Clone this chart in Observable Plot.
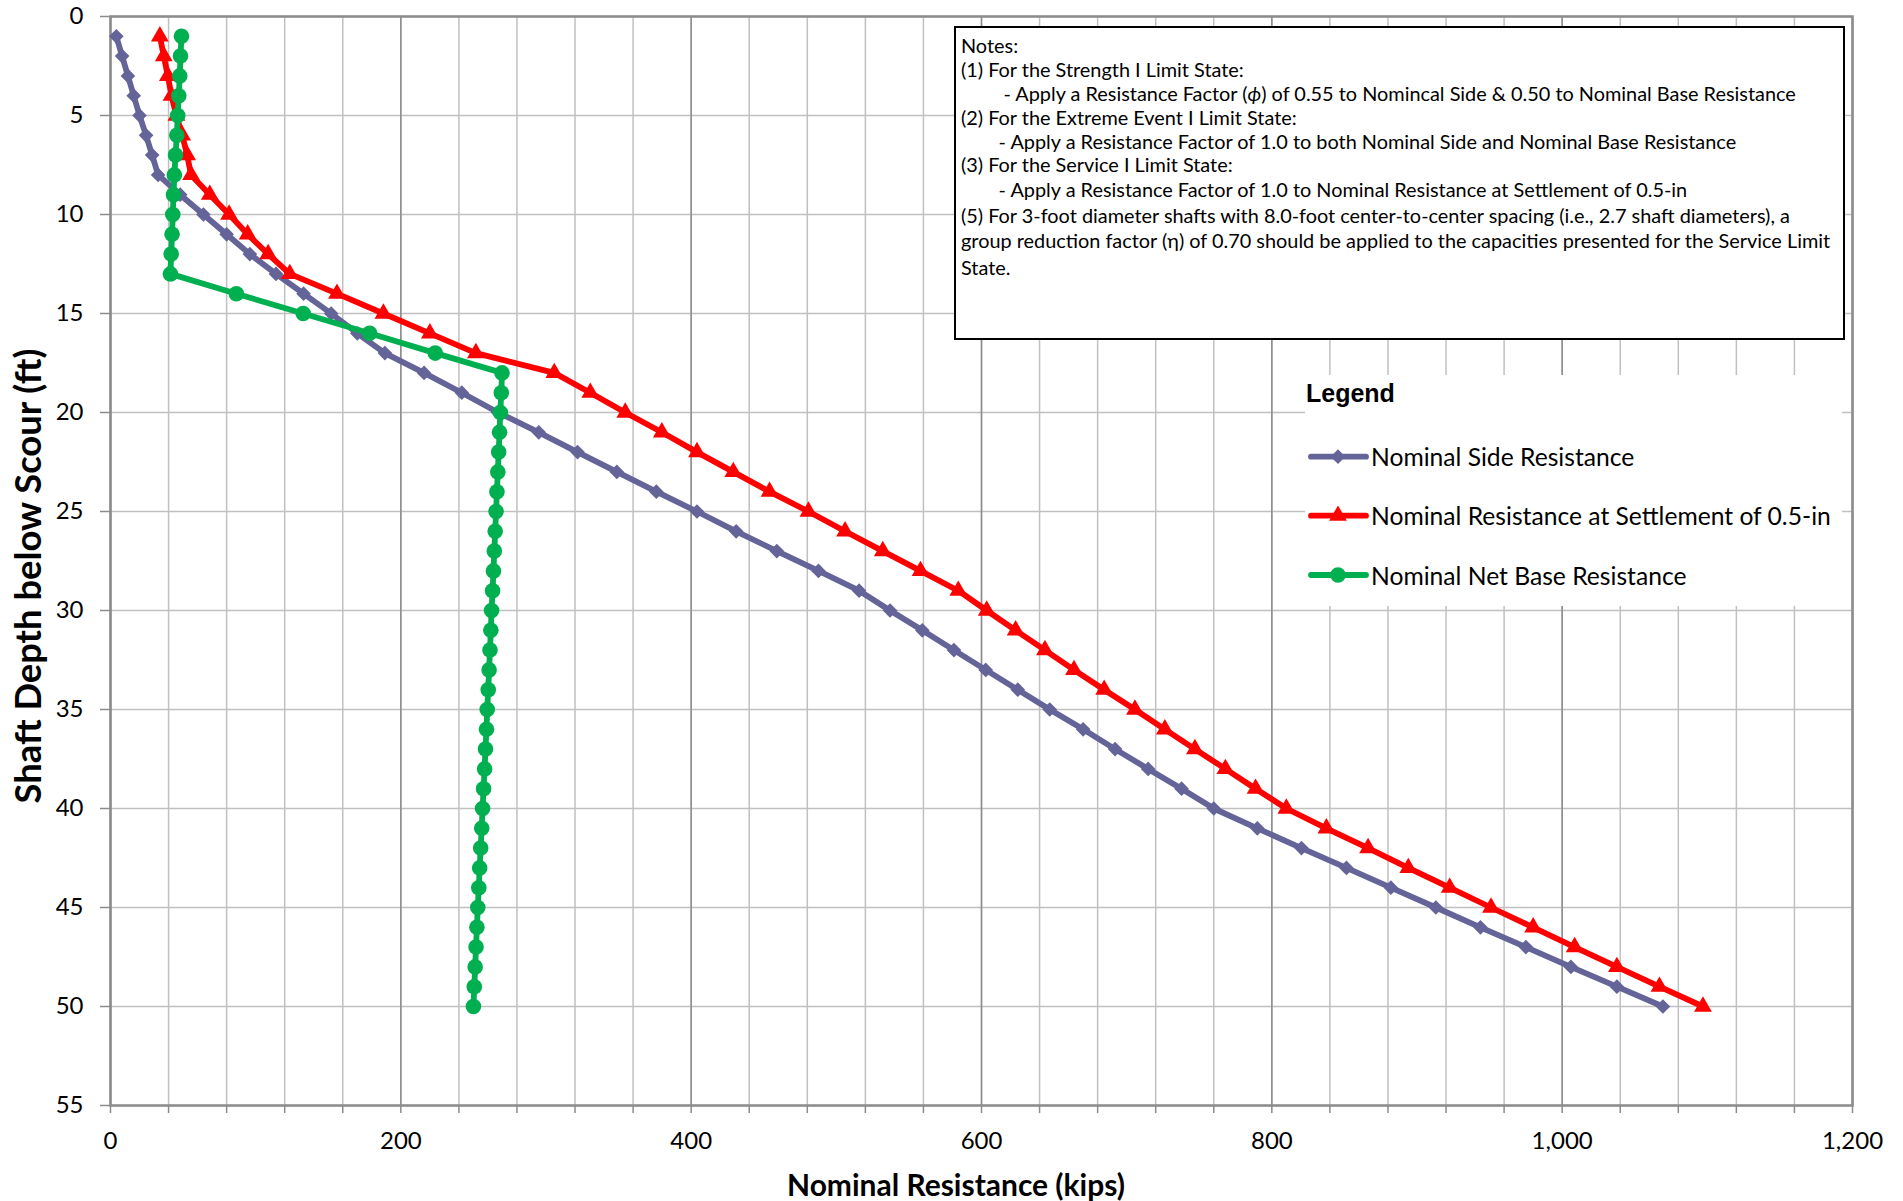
<!DOCTYPE html>
<html><head><meta charset="utf-8">
<script src="https://cdn.jsdelivr.net/npm/d3@7"></script>
<script src="https://cdn.jsdelivr.net/npm/@observablehq/plot@0.6"></script>
<style>
body{margin:0;background:#fff;}
#chart{position:relative;width:1903px;height:1201px;}
</style></head><body><div id="chart"></div>
<script>
// ---- data ----
const depth = [1,2,3,4,5,6,7,8,9,10,11,12,13,14,15,16,17,18,19,20,21,22,23,24,25,26,27,28,29,30,31,32,33,34,35,36,37,38,39,40,41,42,43,44,45,46,47,48,49,50];
const sideResistance = [4,8,12,16,20,24.5,28.7,32.8,48,64,80,96,114,133,152,170,189,216,242,267,295,321.7,348.8,376,404,431,459,487.7,515.7,537,559.2,581,602.9,625,647,670,692,714.8,737.8,760,790,820.4,851.4,882,913,943.7,975,1006,1037.7,1069.4];
const settlementResistance = [34,36.7,39.5,42,45.4,49.4,52.8,55.5,68.4,81.7,94.5,108.6,123.5,156,188,220,251.7,305.7,330.5,354.6,379.8,404,429,454,480.8,506,532,558,584,603.6,623.5,643.7,663.7,684.5,705.7,726.3,747,768,788.8,810,837.6,866.3,894,922.5,951,980,1008.6,1037.7,1067,1097];
const netBaseResistance = [48.9,48.2,47.7,47,46.3,45.7,44.8,44,43.4,42.9,42.4,41.8,41.3,86.7,132.7,178.5,223.7,269.7,269.2,268.5,268,267.4,266.8,266.2,265.6,265,264.4,263.8,263.2,262.5,262,261.4,260.8,260.2,259.5,259,258.3,257.7,257,256.3,255.7,255,254.3,253.7,253,252.4,251.8,251.2,250.6,250];
const seriesNames = ["Nominal Side Resistance","Nominal Resistance at Settlement of 0.5-in","Nominal Net Base Resistance"];
const seriesColors = ["#646499","#ff0000","#00b050"];
const seriesSymbols = ["diamond2","triangle","circle"];
const seriesValues = [sideResistance, settlementResistance, netBaseResistance];
const xMajorTicks = [0,200,400,600,800,1000,1200];
const xMinorTicks = d3.range(0, 1201, 40);
const yTicks = [0,5,10,15,20,25,30,35,40,45,50,55];
const xTitle = "Nominal Resistance (kips)";
const yTitle = "Shaft Depth below Scour (ft)";
const legendTitle = "Legend";
const notes = [
  "Notes:",
  "(1) For the Strength I Limit State:",
  "- Apply a Resistance Factor (|ϕ|) of 0.55 to Nomincal Side & 0.50 to Nominal Base Resistance",
  "(2) For the Extreme Event I Limit State:",
  "- Apply a Resistance Factor of 1.0 to both Nominal Side and Nominal Base Resistance",
  "(3) For the Service I Limit State:",
  "- Apply a Resistance Factor of 1.0 to Nominal Resistance at Settlement of 0.5-in",
  "(5) For 3-foot diameter shafts with 8.0-foot center-to-center spacing (i.e., 2.7 shaft diameters), a",
  "group reduction factor (η) of 0.70 should be applied to the capacities presented for the Service Limit",
  "State."
];

// ---- build ----
const rows = seriesValues.map((vals, s) => depth.map((d, i) => ({depth: d, value: vals[i], series: seriesNames[s]})));
const fmt = d3.format(",");
const FONT = "Lato, 'Open Sans', sans-serif";
const symR = {diamond2: 6.6, triangle: 6.6, circle: 7.8};
const LW = 5.8;

const seriesMarks = rows.flatMap((r, s) => [
  Plot.line(r, {x: "value", y: "depth", stroke: seriesColors[s], strokeWidth: LW}),
  Plot.dot(r, {x: "value", y: "depth", symbol: seriesSymbols[s], r: symR[seriesSymbols[s]], fill: seriesColors[s], stroke: "none"})
]);

const chart = Plot.plot({
  width: 1903, height: 1201,
  marginLeft: 110, marginRight: 51, marginTop: 16, marginBottom: 96,
  style: {fontFamily: FONT, background: "white", color: "black"},
  x: {domain: [0, 1200], label: null},
  y: {domain: [0, 55], reverse: true, label: null},
  marks: [
    Plot.gridX(xMinorTicks, {stroke: "#c0c0c0", strokeOpacity: 1, strokeWidth: 1.5}),
    Plot.gridY(yTicks, {stroke: "#c0c0c0", strokeOpacity: 1, strokeWidth: 1.5}),
    Plot.gridX(xMajorTicks, {stroke: "#8c8c8c", strokeOpacity: 1, strokeWidth: 1.5}),
    Plot.frame({stroke: "#8c8c8c", strokeWidth: 2.5}),
    Plot.axisX(xMinorTicks, {anchor: "bottom", tickSize: 8, tickPadding: 18, fontSize: 24,
      tickFormat: d => d % 200 === 0 ? fmt(d) : "", stroke: "#8c8c8c", strokeWidth: 1.5, fill: "black", label: null}),
    Plot.axisY(yTicks, {anchor: "left", tickSize: 10, tickPadding: 17, fontSize: 24,
      stroke: "#8c8c8c", strokeWidth: 1.5, fill: "black", label: null}),
    ...seriesMarks
  ]
});
document.getElementById("chart").appendChild(chart);

const svg = d3.select(chart);
function fitWidth(sel, target) {
  const base = +sel.attr("font-size");
  const w = sel.node().getComputedTextLength();
  sel.attr("font-size", base * target / w);
}

// axis titles
const xt = svg.append("text").text(xTitle)
  .attr("x", 956).attr("y", 1184).attr("text-anchor", "middle").attr("dominant-baseline", "central")
  .attr("font-family", FONT).attr("font-weight", "bold").attr("font-size", 26).attr("fill", "black");
fitWidth(xt, 338);
const yt = svg.append("text").text(yTitle)
  .attr("transform", "translate(27,576) rotate(-90)").attr("text-anchor", "middle").attr("dominant-baseline", "central")
  .attr("font-family", FONT).attr("font-weight", "bold").attr("font-size", 26).attr("fill", "black");
fitWidth(yt, 455);

// notes box
const ng = svg.append("g").attr("text-anchor", "start");
ng.append("rect").attr("x", 955).attr("y", 27).attr("width", 889).attr("height", 312)
  .attr("fill", "white").attr("stroke", "black").attr("stroke-width", 2);
const noteY = [45, 69.3, 92.7, 116.7, 140.7, 164.3, 189, 215, 240, 266.7];
const noteX = [961, 961, 1003.5, 961, 998.6, 961, 998.6, 961, 961, 961];
const noteTexts = notes.map((line, i) => {
  const t = ng.append("text").attr("x", noteX[i]).attr("y", noteY[i]).attr("text-anchor", "start")
    .attr("dominant-baseline", "central").attr("font-family", FONT).attr("font-size", 19).attr("fill", "black");
  line.split("|").forEach((part, j) => {
    t.append("tspan").text(part).attr("font-style", j === 1 ? "italic" : null);
  });
  return t;
});
{
  const w = noteTexts[8].node().getComputedTextLength();
  const fs = 19 * 870 / w;
  noteTexts.forEach(t => t.attr("font-size", fs));
}

// legend
const lg = svg.append("g").attr("text-anchor", "start");
lg.append("rect").attr("x", 1305).attr("y", 375).attr("width", 537).attr("height", 231).attr("fill", "white").attr("stroke", "none");
lg.append("text").text(legendTitle).attr("x", 1306).attr("y", 402).attr("text-anchor", "start")
  .attr("font-family", "'Liberation Sans', Arial, sans-serif").attr("font-weight", "bold").attr("font-size", 25).attr("fill", "black");
const rowY = [456.7, 515.7, 575];
const legTexts = [];
seriesNames.forEach((name, s) => {
  lg.append("line").attr("x1", 1311).attr("x2", 1366).attr("y1", rowY[s]).attr("y2", rowY[s])
    .attr("stroke", seriesColors[s]).attr("stroke-width", LW).attr("stroke-linecap", "round");
  const symType = {diamond2: d3.symbolDiamond2, triangle: d3.symbolTriangle, circle: d3.symbolCircle}[seriesSymbols[s]];
  const r = symR[seriesSymbols[s]];
  lg.append("path").attr("d", d3.symbol(symType, Math.PI * r * r)())
    .attr("transform", `translate(1338,${rowY[s]})`).attr("fill", seriesColors[s]);
  legTexts.push(lg.append("text").text(name).attr("x", 1371).attr("y", rowY[s]).attr("text-anchor", "start")
    .attr("dominant-baseline", "central").attr("font-family", FONT).attr("font-size", 22).attr("fill", "black"));
});
{
  const w = legTexts[1].node().getComputedTextLength();
  const fs = 22 * 460 / w;
  legTexts.forEach(t => t.attr("font-size", fs));
}
</script></body></html>
